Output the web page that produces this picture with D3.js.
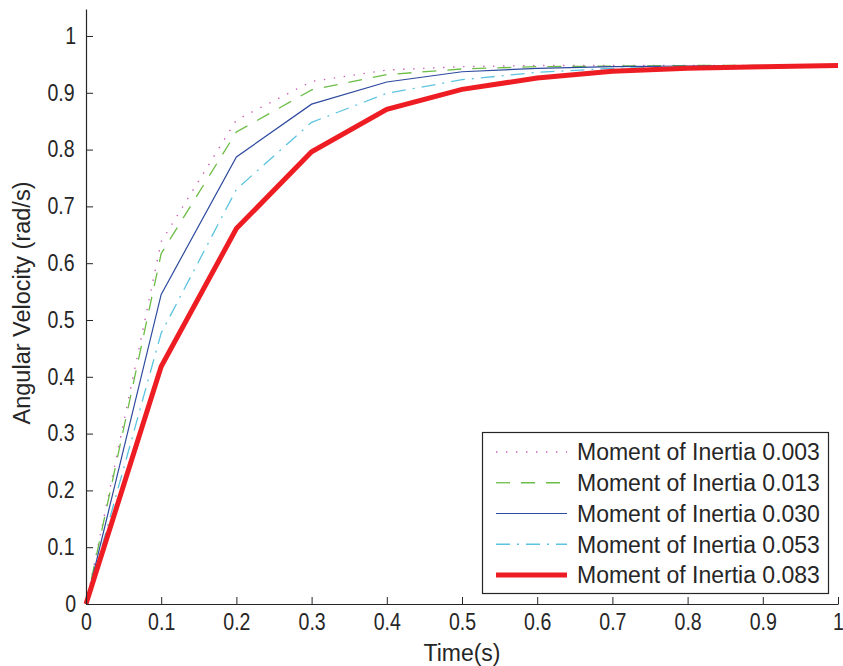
<!DOCTYPE html>
<html>
<head>
<meta charset="utf-8">
<script src="https://cdn.jsdelivr.net/npm/d3@7/dist/d3.min.js"></script>
<style>
  html, body { margin: 0; padding: 0; background: #fff; }
  svg { display: block; font-family: "Liberation Sans", Arial, sans-serif; }
  .tick text { transform-box: fill-box; transform-origin: center; transform: scaleX(0.85); }
</style>
</head>
<body>
<svg id="chart" width="843" height="666"></svg>
<script>
const time = [0, 0.1, 0.2, 0.3, 0.4, 0.5, 0.6, 0.7, 0.8, 0.9, 1.0];
const inertia003 = [0, 0.638, 0.852, 0.920, 0.940, 0.946, 0.948, 0.948, 0.948, 0.948, 0.948];
const inertia013 = [0, 0.617, 0.831, 0.905, 0.932, 0.942, 0.946, 0.947, 0.948, 0.948, 0.948];
const inertia030 = [0, 0.545, 0.787, 0.880, 0.919, 0.937, 0.943, 0.946, 0.947, 0.948, 0.948];
const inertia053 = [0, 0.477, 0.730, 0.848, 0.899, 0.923, 0.936, 0.943, 0.946, 0.947, 0.948];
const inertia083 = [0, 0.418, 0.661, 0.796, 0.871, 0.906, 0.926, 0.938, 0.943, 0.946, 0.948];
const seriesNames = ["Moment of Inertia 0.003", "Moment of Inertia 0.013", "Moment of Inertia 0.030", "Moment of Inertia 0.053", "Moment of Inertia 0.083"];
const xTicks = [0, 0.1, 0.2, 0.3, 0.4, 0.5, 0.6, 0.7, 0.8, 0.9, 1];
const yTicks = [0, 0.1, 0.2, 0.3, 0.4, 0.5, 0.6, 0.7, 0.8, 0.9, 1];
const xLabel = "Time(s)";
const yLabel = "Angular Velocity (rad/s)";

const series = [
  { name: seriesNames[0], values: inertia003, color: "#cc5fb8", width: 1.4, dash: "1.4,8.6" },
  { name: seriesNames[1], values: inertia013, color: "#6cbd45", width: 1.3, dash: "14,11" },
  { name: seriesNames[2], values: inertia030, color: "#2e4a9e", width: 1.2, dash: null },
  { name: seriesNames[3], values: inertia053, color: "#5cc4df", width: 1.3, dash: "14,7,2,7" },
  { name: seriesNames[4], values: inertia083, color: "#ee1d23", width: 5, dash: null }
];

const svg = d3.select("#chart");
const x = d3.scaleLinear().domain([0, 1]).range([86, 838]);
const y = d3.scaleLinear().domain([0, 1.0475]).range([604, 9]);
const axisColor = "#262626";

// lines
const line = d3.line().x((d, i) => x(time[i])).y(d => y(d));
const gLines = svg.append("g");
series.forEach(s => {
  gLines.append("path")
    .datum(s.values)
    .attr("fill", "none")
    .attr("stroke", s.color)
    .attr("stroke-width", s.width)
    .attr("stroke-dasharray", s.dash)
    .attr("stroke-linejoin", "miter")
    .attr("d", line);
});

// axes
const xAxis = d3.axisBottom(x).tickValues(xTicks).tickSize(-7).tickSizeOuter(0)
  .tickFormat(d => d3.format("")(+d.toFixed(1)));
const gx = svg.append("g").attr("transform", "translate(0,604)").call(xAxis);
gx.select(".domain").attr("stroke", axisColor).attr("stroke-width", 1.2);
gx.selectAll(".tick line").attr("stroke", axisColor).attr("stroke-width", 1);
gx.selectAll(".tick text").attr("fill", axisColor).attr("font-size", 23).attr("y", 10).attr("dy", "0.71em");

const yAxis = d3.axisLeft(y).tickValues(yTicks).tickSize(-7).tickSizeOuter(0)
  .tickFormat(d => d3.format("")(+d.toFixed(1)));
const gy = svg.append("g").attr("transform", "translate(86,0)").call(yAxis);
gy.select(".domain").attr("stroke", axisColor).attr("stroke-width", 1.2);
gy.selectAll(".tick line").attr("stroke", axisColor).attr("stroke-width", 1);
gy.selectAll(".tick text").attr("fill", axisColor).attr("font-size", 23).attr("x", -9);

// axis titles
svg.append("text").attr("x", 462).attr("y", 661).attr("text-anchor", "middle")
  .attr("font-size", 23).attr("fill", axisColor).text(xLabel);
svg.append("text").attr("transform", "translate(30,303) rotate(-90)").attr("text-anchor", "middle")
  .attr("font-size", 23.5).attr("fill", axisColor).text(yLabel);

// legend
const lg = svg.append("g");
lg.append("rect").attr("x", 482.5).attr("y", 432.5).attr("width", 346).attr("height", 161)
  .attr("fill", "#fff").attr("stroke", axisColor).attr("stroke-width", 1.2);
const rowY = d3.scaleLinear().domain([0, 4]).range([452, 575]);
series.forEach((s, i) => {
  lg.append("line").attr("x1", 496).attr("x2", 567).attr("y1", rowY(i)).attr("y2", rowY(i))
    .attr("stroke", s.color).attr("stroke-width", s.width).attr("stroke-dasharray", s.dash);
  lg.append("text").attr("x", 577).attr("y", rowY(i)).attr("dy", "0.36em")
    .attr("font-size", 23).attr("fill", axisColor).text(s.name);
});
</script>
</body>
</html>
